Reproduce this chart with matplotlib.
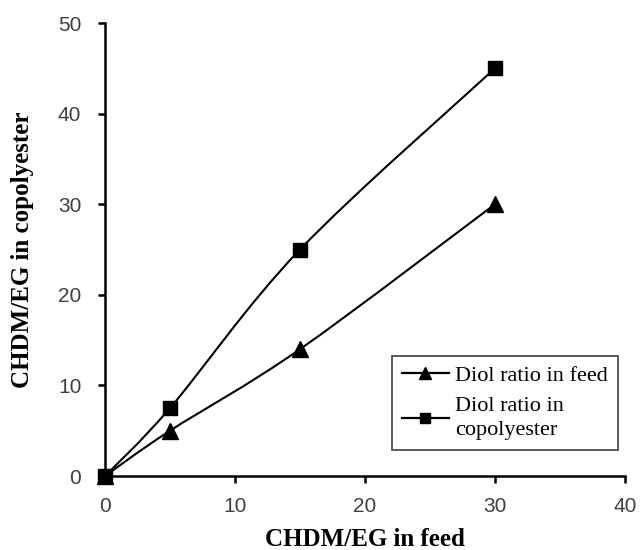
import numpy as np
import matplotlib
matplotlib.use("Agg")
import matplotlib.pyplot as plt
from matplotlib.path import Path
from matplotlib.patches import PathPatch
from matplotlib.lines import Line2D

# data
feed_x = [0, 5, 15, 30]
diol_feed = [0, 5, 14, 30]
diol_copoly = [0, 7.5, 25, 45]
labels = ["Diol ratio in feed", "Diol ratio in\ncopolyester"]
x_ticks = [0, 10, 20, 30, 40]
y_ticks = [0, 10, 20, 30, 40, 50]


# smooth line like excel: bezier segments with catmull-rom control points
def smooth_path(xs, ys):
    p = np.column_stack([xs, ys]).astype(float)
    verts = [p[0]]
    codes = [Path.MOVETO]
    n = len(p)
    for i in range(n - 1):
        p0 = p[i - 1] if i > 0 else p[i]
        p3 = p[i + 2] if i + 2 < n else p[i + 1]
        c1 = p[i] + (p[i + 1] - p0) / 6.0
        c2 = p[i + 1] - (p3 - p[i]) / 6.0
        verts += [c1, c2, p[i + 1]]
        codes += [Path.CURVE4] * 3
    return Path(verts, codes)


fig = plt.figure(figsize=(6.4, 5.5), dpi=100)
ax = fig.add_axes([0.164, 0.1345, 0.8125, 0.8236])

for ys, mk, ms in [(diol_feed, "^", 11), (diol_copoly, "s", 9.5)]:
    ax.add_patch(PathPatch(smooth_path(feed_x, ys), fill=False, lw=1.5, ec="black"))
    ax.plot(feed_x, ys, ls="none", marker=mk, ms=ms, color="black", zorder=3, clip_on=False)

ax.set_xlim(0, 40)
ax.set_ylim(0, 50)
ax.set_xticks(x_ticks)
ax.set_yticks(y_ticks)
for s in ["top", "right"]:
    ax.spines[s].set_visible(False)
for s in ["left", "bottom"]:
    ax.spines[s].set_linewidth(1.8)
ax.tick_params(direction="out", length=5, width=1.8, labelsize=15, labelcolor="#404040")
ax.tick_params(axis="y", pad=12)
ax.tick_params(axis="x", pad=10)
for t in ax.get_xticklabels() + ax.get_yticklabels():
    t.set_fontfamily("Liberation Sans")

ax.set_xlabel("CHDM/EG in feed", fontfamily="Liberation Serif", fontweight="bold", fontsize=18, labelpad=9)
ax.set_ylabel("CHDM/EG in copolyester", fontfamily="Liberation Serif", fontweight="bold", fontsize=18, labelpad=17)

handles = [Line2D([], [], color="black", lw=1.6, marker="^", ms=8),
           Line2D([], [], color="black", lw=1.6, marker="s", ms=7)]
leg = ax.legend(handles, labels, loc="lower right", bbox_to_anchor=(0.9865, 0.057),
                prop={"family": "Liberation Serif", "size": 16}, frameon=True,
                fancybox=False, edgecolor="#222222", handlelength=2.1, handletextpad=0.3,
                borderpad=0.45, borderaxespad=0, labelspacing=0.5)
leg.get_frame().set_linewidth(1.3)
for t in leg.get_texts():
    t.set_linespacing(1.35)

fig.savefig("out.png", dpi=100)
